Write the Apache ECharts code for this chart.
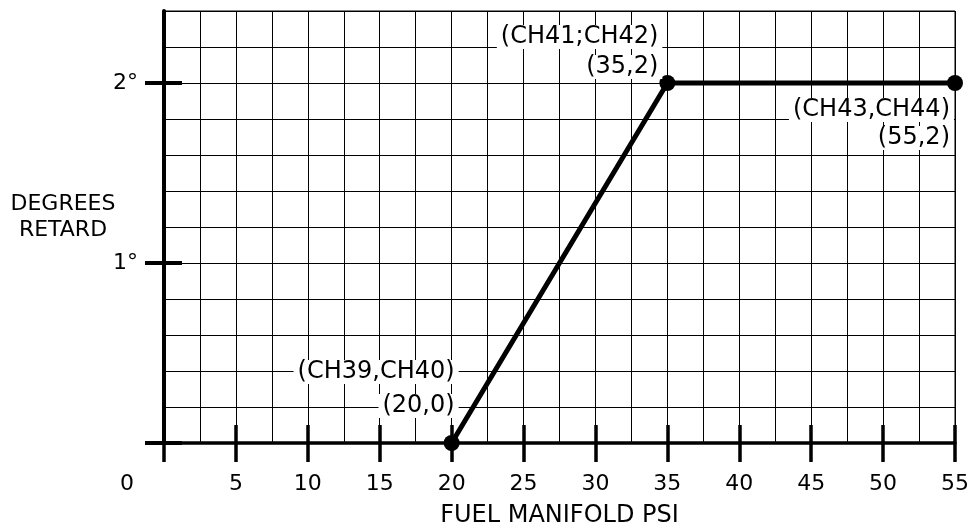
<!DOCTYPE html>
<html>
<head>
<meta charset="utf-8">
<script src="https://cdn.jsdelivr.net/npm/echarts@6/dist/echarts.min.js"></script>
<style>
  html, body { margin: 0; padding: 0; background: #fff; }
  #chart { width: 977px; height: 529px; }
</style>
</head>
<body>
<div id="chart"></div>
<script>
// data
var psi = [20, 35, 55];
var retard = [0, 2, 2];
var channelLabels = ['(CH39,CH40)', '(CH41;CH42)', '(CH43,CH44)'];
var pointLabels = ['(20,0)', '(35,2)', '(55,2)'];
var xTicks = [0, 5, 10, 15, 20, 25, 30, 35, 40, 45, 50, 55];
var yTicks = [1, 2];

var FONT = 'DejaVu Sans';
var INK = '#000';
var TICK_HALF = 18; // ticks cross the axis, half inside, half outside

// where each two-line note sits next to its point
var notePlace = [
    { offset: [7, -20], verticalAlign: 'bottom', lineHeight: 34 },
    { offset: [-5, -1], verticalAlign: 'bottom', lineHeight: 30 },
    { offset: [-1, 13], verticalAlign: 'top', lineHeight: 28 }
];

var points = psi.map(function (x, i) {
    var p = notePlace[i];
    return {
        value: [x, retard[i]],
        label: {
            show: true,
            position: 'inside',
            align: 'right',
            verticalAlign: p.verticalAlign,
            offset: p.offset,
            formatter: '{a|' + channelLabels[i] + '}\n{a|' + pointLabels[i] + '}',
            rich: {
                a: {
                    fontFamily: FONT,
                    fontSize: 24,
                    color: INK,
                    backgroundColor: '#fff',
                    lineHeight: p.lineHeight,
                    padding: [0, 4]
                }
            }
        }
    };
});

var option = {
    animation: false,
    backgroundColor: '#fff',
    title: {
        text: 'DEGREES\nRETARD',
        left: 63,
        top: 191,
        padding: 0,
        textAlign: 'center',
        textStyle: {
            fontFamily: FONT,
            fontSize: 22,
            fontWeight: 'normal',
            color: INK,
            lineHeight: 26
        }
    },
    grid: {
        left: 164,
        right: 22,
        top: 11,
        bottom: 86,
        outerBoundsMode: 'none',
        show: true,
        borderColor: INK,
        borderWidth: 1
    },
    xAxis: [
        {
            type: 'value',
            min: 0,
            max: 55,
            interval: 2.5,
            position: 'bottom',
            name: 'FUEL MANIFOLD PSI',
            nameLocation: 'middle',
            nameGap: 61,
            nameTextStyle: {
                fontFamily: FONT,
                fontSize: 24,
                color: INK
            },
            axisLine: { show: true, onZero: false, lineStyle: { color: INK, width: 3.5 } },
            axisTick: { show: false },
            axisLabel: { show: false },
            splitLine: { show: true, lineStyle: { color: INK, width: 1 } }
        },
        {
            // crossing ticks + labels, drawn from an axis lifted into the grid
            type: 'value',
            min: 0,
            max: 55,
            position: 'bottom',
            offset: -TICK_HALF,
            axisLine: { show: false, onZero: false },
            splitLine: { show: false },
            axisTick: {
                show: true,
                length: TICK_HALF * 2 + 1,
                customValues: xTicks,
                lineStyle: { color: INK, width: 3.5 }
            },
            axisLabel: {
                show: true,
                customValues: xTicks,
                margin: TICK_HALF + 30,
                fontFamily: FONT,
                fontSize: 22,
                color: INK,
                formatter: function (v) {
                    // the origin "0" sits off to the left of the corner
                    return v === 0 ? '{z|0}' : String(v);
                },
                rich: {
                    z: { fontFamily: FONT, fontSize: 22, color: INK, padding: [0, 74, 0, 0] }
                }
            }
        }
    ],
    yAxis: [
        {
            type: 'value',
            min: 0,
            max: 2.4,
            interval: 0.2,
            position: 'left',
            axisLine: { show: true, onZero: false, lineStyle: { color: INK, width: 4 } },
            axisTick: { show: false },
            axisLabel: { show: false },
            splitLine: { show: true, lineStyle: { color: INK, width: 1 } }
        },
        {
            type: 'value',
            min: 0,
            max: 2.4,
            position: 'left',
            offset: -TICK_HALF,
            axisLine: { show: false, onZero: false },
            splitLine: { show: false },
            axisTick: {
                show: true,
                length: TICK_HALF * 2 + 1,
                customValues: [0].concat(yTicks),
                lineStyle: { color: INK, width: 4 }
            },
            axisLabel: {
                show: true,
                customValues: yTicks,
                margin: TICK_HALF + 26,
                fontFamily: FONT,
                fontSize: 22,
                color: INK,
                formatter: '{value}°'
            }
        }
    ],
    series: [
        {
            type: 'line',
            xAxisIndex: 0,
            yAxisIndex: 0,
            data: points,
            symbol: 'circle',
            symbolSize: 16,
            lineStyle: { color: INK, width: 5 },
            itemStyle: { color: INK },
            z: 5
        }
    ]
};

var chart = echarts.init(document.getElementById('chart'), null, { renderer: 'canvas' });
chart.setOption(option);
</script>
</body>
</html>
